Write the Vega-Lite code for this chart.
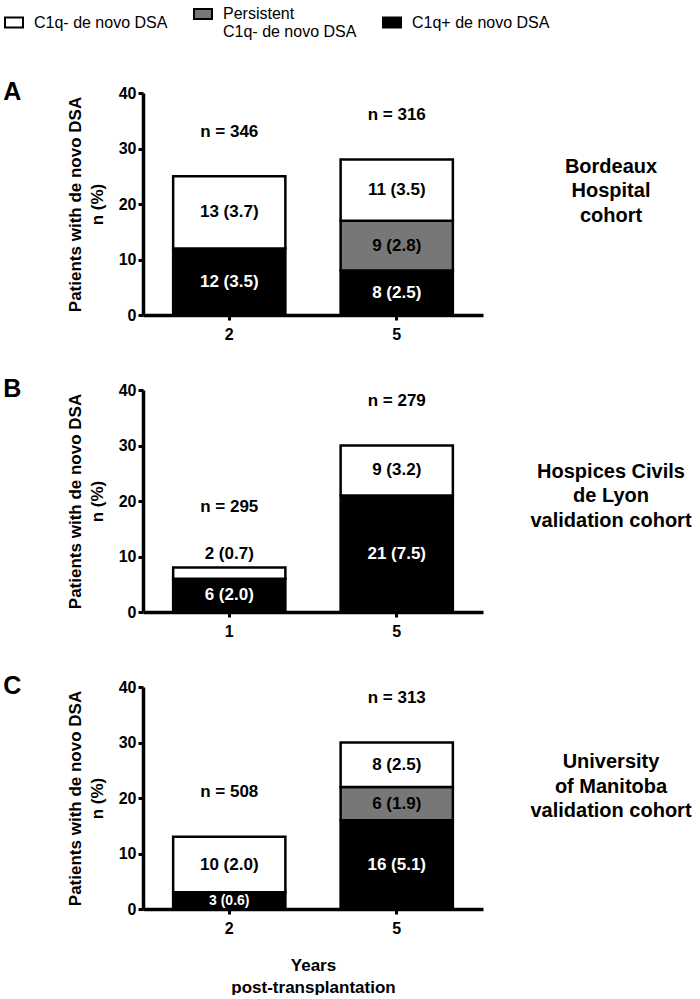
{
  "$schema": "https://vega.github.io/schema/vega-lite/v6.json",
  "background": "white",
  "padding": {"left": 3, "top": 4, "right": 0, "bottom": 0},
  "datasets": {
    "bars": [
      {"cohort": "Bordeaux", "year": 2, "type": "C1q+ de novo DSA", "count": 12, "pct": 3.5, "n": 346},
      {"cohort": "Bordeaux", "year": 2, "type": "C1q- de novo DSA", "count": 13, "pct": 3.7, "n": 346},
      {"cohort": "Bordeaux", "year": 5, "type": "C1q+ de novo DSA", "count": 8, "pct": 2.5, "n": 316},
      {"cohort": "Bordeaux", "year": 5, "type": "Persistent C1q- de novo DSA", "count": 9, "pct": 2.8, "n": 316},
      {"cohort": "Bordeaux", "year": 5, "type": "C1q- de novo DSA", "count": 11, "pct": 3.5, "n": 316},
      {"cohort": "Lyon", "year": 1, "type": "C1q+ de novo DSA", "count": 6, "pct": 2.0, "n": 295},
      {"cohort": "Lyon", "year": 1, "type": "C1q- de novo DSA", "count": 2, "pct": 0.7, "n": 295},
      {"cohort": "Lyon", "year": 5, "type": "C1q+ de novo DSA", "count": 21, "pct": 7.5, "n": 279},
      {"cohort": "Lyon", "year": 5, "type": "C1q- de novo DSA", "count": 9, "pct": 3.2, "n": 279},
      {"cohort": "Manitoba", "year": 2, "type": "C1q+ de novo DSA", "count": 3, "pct": 0.6, "n": 508},
      {"cohort": "Manitoba", "year": 2, "type": "C1q- de novo DSA", "count": 10, "pct": 2.0, "n": 508},
      {"cohort": "Manitoba", "year": 5, "type": "C1q+ de novo DSA", "count": 16, "pct": 5.1, "n": 313},
      {"cohort": "Manitoba", "year": 5, "type": "Persistent C1q- de novo DSA", "count": 6, "pct": 1.9, "n": 313},
      {"cohort": "Manitoba", "year": 5, "type": "C1q- de novo DSA", "count": 8, "pct": 2.5, "n": 313}
    ],
    "cohorts": [
      {"cohort": "Bordeaux", "label": "Bordeaux\nHospital\ncohort"},
      {"cohort": "Lyon", "label": "Hospices Civils\nde Lyon\nvalidation cohort"},
      {"cohort": "Manitoba", "label": "University\nof Manitoba\nvalidation cohort"}
    ]
  },
  "spacing": 35,
  "vconcat": [
    {
      "spacing": 38,
      "hconcat": [
        {
          "title": {"text": "A", "anchor": "start", "frame": "bounds", "fontSize": 25, "fontWeight": "bold", "dx": -63, "offset": -20, "color": "black"},
          "width": 340, "height": 222,
          "data": {"name": "bars"},
          "transform": [
            {"filter": "datum.cohort == 'Bordeaux'"},
            {"calculate": "datum.type == 'C1q+ de novo DSA' ? 0 : (datum.type == 'Persistent C1q- de novo DSA' ? 1 : 2)", "as": "so"},
            {"stack": "count", "groupby": ["year"], "sort": [{"field": "so"}], "as": ["y0", "y1"]},
            {"calculate": "datum.count < 3 ? datum.y1 + 2.5 : (datum.y0 + datum.y1) / 2", "as": "ly"},
            {"calculate": "datum.count + ' (' + format(datum.pct, '.1f') + ')'", "as": "lbl"}
          ],
          "encoding": {
            "x": {"field": "year", "type": "ordinal", "scale": {"paddingInner": 0.33, "paddingOuter": 0.18},
              "axis": {"title": null, "labelAngle": 0, "labelFontSize": 16, "labelFontWeight": "bold", "tickSize": 5, "tickWidth": 3, "domainWidth": 3.5, "labelPadding": 6}}
          },
          "layer": [
            {
              "mark": {"type": "bar", "stroke": "black", "strokeWidth": 2.5},
              "encoding": {
                "y": {"field": "y0", "type": "quantitative", "scale": {"domain": [0, 40], "nice": false},
                  "axis": {"title": ["Patients with de novo DSA", "n (%)"], "values": [0, 10, 20, 30, 40], "titleFontSize": 17, "titleFontWeight": "bold", "titleLineHeight": 22, "titlePadding": 12, "labelFontSize": 16, "labelFontWeight": "bold", "tickSize": 5, "tickWidth": 3, "domainWidth": 3.5, "labelPadding": 2}},
                "y2": {"field": "y1"},
                "color": {"field": "type", "type": "nominal", "scale": {"domain": ["C1q- de novo DSA", "Persistent C1q- de novo DSA", "C1q+ de novo DSA"], "range": ["white", "#777777", "black"]},
                  "legend": {"orient": "none", "legendX": -139, "legendY": -89, "direction": "horizontal", "title": null, "columnPadding": 22,
                    "labelExpr": "datum.label == 'Persistent C1q- de novo DSA' ? ['Persistent', 'C1q- de novo DSA'] : datum.label"}}
              }
            },
            {
              "mark": {"type": "text", "fontWeight": "bold", "baseline": "middle"},
              "encoding": {
                "y": {"field": "ly", "type": "quantitative"},
                "text": {"field": "lbl"},
                "color": {"condition": {"test": "datum.type == 'C1q+ de novo DSA'", "value": "white"}, "value": "black"},
                "size": {"condition": {"test": "datum.count >= 3 && datum.count < 4", "value": 14}, "value": 17}
              }
            },
            {
              "transform": [
                {"aggregate": [{"op": "sum", "field": "count", "as": "total"}, {"op": "min", "field": "count", "as": "mn"}], "groupby": ["year", "n"]},
                {"calculate": "datum.total + (datum.mn < 3 ? 3 : 0) + 8", "as": "ny"},
                {"calculate": "'n = ' + datum.n", "as": "nl"}
              ],
              "mark": {"type": "text", "fontWeight": "bold", "fontSize": 17, "baseline": "middle", "color": "black"},
              "encoding": {
                "y": {"field": "ny", "type": "quantitative"},
                "text": {"field": "nl"}
              }
            }
          ]
        },
        {
          "width": 180, "height": 222,
          "data": {"name": "cohorts"},
          "transform": [{"filter": "datum.cohort == 'Bordeaux'"}],
          "mark": {"type": "text", "fontSize": 20, "fontWeight": "bold", "lineBreak": "\n", "lineHeight": 24.5, "baseline": "middle", "color": "black"},
          "encoding": {
            "y": {"datum": 26.7, "type": "quantitative", "scale": {"domain": [0, 40]}, "axis": null},
            "text": {"field": "label"}
          }
        }
      ]
    },
    {
      "spacing": 38,
      "hconcat": [
        {
          "title": {"text": "B", "anchor": "start", "frame": "bounds", "fontSize": 25, "fontWeight": "bold", "dx": -63, "offset": -20, "color": "black"},
          "width": 340, "height": 222,
          "data": {"name": "bars"},
          "transform": [
            {"filter": "datum.cohort == 'Lyon'"},
            {"calculate": "datum.type == 'C1q+ de novo DSA' ? 0 : (datum.type == 'Persistent C1q- de novo DSA' ? 1 : 2)", "as": "so"},
            {"stack": "count", "groupby": ["year"], "sort": [{"field": "so"}], "as": ["y0", "y1"]},
            {"calculate": "datum.count < 3 ? datum.y1 + 2.5 : (datum.y0 + datum.y1) / 2", "as": "ly"},
            {"calculate": "datum.count + ' (' + format(datum.pct, '.1f') + ')'", "as": "lbl"}
          ],
          "encoding": {
            "x": {"field": "year", "type": "ordinal", "scale": {"paddingInner": 0.33, "paddingOuter": 0.18},
              "axis": {"title": null, "labelAngle": 0, "labelFontSize": 16, "labelFontWeight": "bold", "tickSize": 5, "tickWidth": 3, "domainWidth": 3.5, "labelPadding": 6}}
          },
          "layer": [
            {
              "mark": {"type": "bar", "stroke": "black", "strokeWidth": 2.5},
              "encoding": {
                "y": {"field": "y0", "type": "quantitative", "scale": {"domain": [0, 40], "nice": false},
                  "axis": {"title": ["Patients with de novo DSA", "n (%)"], "values": [0, 10, 20, 30, 40], "titleFontSize": 17, "titleFontWeight": "bold", "titleLineHeight": 22, "titlePadding": 12, "labelFontSize": 16, "labelFontWeight": "bold", "tickSize": 5, "tickWidth": 3, "domainWidth": 3.5, "labelPadding": 2}},
                "y2": {"field": "y1"},
                "color": {"field": "type", "type": "nominal", "scale": {"domain": ["C1q- de novo DSA", "Persistent C1q- de novo DSA", "C1q+ de novo DSA"], "range": ["white", "#777777", "black"]},
                  "legend": {"orient": "none", "legendX": -139, "legendY": -89, "direction": "horizontal", "title": null, "columnPadding": 22,
                    "labelExpr": "datum.label == 'Persistent C1q- de novo DSA' ? ['Persistent', 'C1q- de novo DSA'] : datum.label"}}
              }
            },
            {
              "mark": {"type": "text", "fontWeight": "bold", "baseline": "middle"},
              "encoding": {
                "y": {"field": "ly", "type": "quantitative"},
                "text": {"field": "lbl"},
                "color": {"condition": {"test": "datum.type == 'C1q+ de novo DSA'", "value": "white"}, "value": "black"},
                "size": {"condition": {"test": "datum.count >= 3 && datum.count < 4", "value": 14}, "value": 17}
              }
            },
            {
              "transform": [
                {"aggregate": [{"op": "sum", "field": "count", "as": "total"}, {"op": "min", "field": "count", "as": "mn"}], "groupby": ["year", "n"]},
                {"calculate": "datum.total + (datum.mn < 3 ? 3 : 0) + 8", "as": "ny"},
                {"calculate": "'n = ' + datum.n", "as": "nl"}
              ],
              "mark": {"type": "text", "fontWeight": "bold", "fontSize": 17, "baseline": "middle", "color": "black"},
              "encoding": {
                "y": {"field": "ny", "type": "quantitative"},
                "text": {"field": "nl"}
              }
            }
          ]
        },
        {
          "width": 180, "height": 222,
          "data": {"name": "cohorts"},
          "transform": [{"filter": "datum.cohort == 'Lyon'"}],
          "mark": {"type": "text", "fontSize": 20, "fontWeight": "bold", "lineBreak": "\n", "lineHeight": 24.5, "baseline": "middle", "color": "black"},
          "encoding": {
            "y": {"datum": 25.3, "type": "quantitative", "scale": {"domain": [0, 40]}, "axis": null},
            "text": {"field": "label"}
          }
        }
      ]
    },
    {
      "spacing": 38,
      "hconcat": [
        {
          "title": {"text": "C", "anchor": "start", "frame": "bounds", "fontSize": 25, "fontWeight": "bold", "dx": -63, "offset": -20, "color": "black"},
          "width": 340, "height": 222,
          "data": {"name": "bars"},
          "transform": [
            {"filter": "datum.cohort == 'Manitoba'"},
            {"calculate": "datum.type == 'C1q+ de novo DSA' ? 0 : (datum.type == 'Persistent C1q- de novo DSA' ? 1 : 2)", "as": "so"},
            {"stack": "count", "groupby": ["year"], "sort": [{"field": "so"}], "as": ["y0", "y1"]},
            {"calculate": "datum.count < 3 ? datum.y1 + 2.5 : (datum.y0 + datum.y1) / 2", "as": "ly"},
            {"calculate": "datum.count + ' (' + format(datum.pct, '.1f') + ')'", "as": "lbl"}
          ],
          "encoding": {
            "x": {"field": "year", "type": "ordinal", "scale": {"paddingInner": 0.33, "paddingOuter": 0.18},
              "axis": {"title": ["Years", "post-transplantation"], "titleFontSize": 17, "titleFontWeight": "bold", "titleLineHeight": 22, "titlePadding": 21, "labelAngle": 0, "labelFontSize": 16, "labelFontWeight": "bold", "tickSize": 5, "tickWidth": 3, "domainWidth": 3.5, "labelPadding": 6}}
          },
          "layer": [
            {
              "mark": {"type": "bar", "stroke": "black", "strokeWidth": 2.5},
              "encoding": {
                "y": {"field": "y0", "type": "quantitative", "scale": {"domain": [0, 40], "nice": false},
                  "axis": {"title": ["Patients with de novo DSA", "n (%)"], "values": [0, 10, 20, 30, 40], "titleFontSize": 17, "titleFontWeight": "bold", "titleLineHeight": 22, "titlePadding": 12, "labelFontSize": 16, "labelFontWeight": "bold", "tickSize": 5, "tickWidth": 3, "domainWidth": 3.5, "labelPadding": 2}},
                "y2": {"field": "y1"},
                "color": {"field": "type", "type": "nominal", "scale": {"domain": ["C1q- de novo DSA", "Persistent C1q- de novo DSA", "C1q+ de novo DSA"], "range": ["white", "#777777", "black"]},
                  "legend": {"orient": "none", "legendX": -139, "legendY": -89, "direction": "horizontal", "title": null, "columnPadding": 22,
                    "labelExpr": "datum.label == 'Persistent C1q- de novo DSA' ? ['Persistent', 'C1q- de novo DSA'] : datum.label"}}
              }
            },
            {
              "mark": {"type": "text", "fontWeight": "bold", "baseline": "middle"},
              "encoding": {
                "y": {"field": "ly", "type": "quantitative"},
                "text": {"field": "lbl"},
                "color": {"condition": {"test": "datum.type == 'C1q+ de novo DSA'", "value": "white"}, "value": "black"},
                "size": {"condition": {"test": "datum.count >= 3 && datum.count < 4", "value": 14}, "value": 17}
              }
            },
            {
              "transform": [
                {"aggregate": [{"op": "sum", "field": "count", "as": "total"}, {"op": "min", "field": "count", "as": "mn"}], "groupby": ["year", "n"]},
                {"calculate": "datum.total + (datum.mn < 3 ? 3 : 0) + 8", "as": "ny"},
                {"calculate": "'n = ' + datum.n", "as": "nl"}
              ],
              "mark": {"type": "text", "fontWeight": "bold", "fontSize": 17, "baseline": "middle", "color": "black"},
              "encoding": {
                "y": {"field": "ny", "type": "quantitative"},
                "text": {"field": "nl"}
              }
            }
          ]
        },
        {
          "width": 180, "height": 222,
          "data": {"name": "cohorts"},
          "transform": [{"filter": "datum.cohort == 'Manitoba'"}],
          "mark": {"type": "text", "fontSize": 20, "fontWeight": "bold", "lineBreak": "\n", "lineHeight": 24.5, "baseline": "middle", "color": "black"},
          "encoding": {
            "y": {"datum": 26.4, "type": "quantitative", "scale": {"domain": [0, 40]}, "axis": null},
            "text": {"field": "label"}
          }
        }
      ]
    }
  ],
  "config": {
    "font": "Liberation Sans",
    "view": {"stroke": null},
    "axis": {"domainColor": "black", "tickColor": "black", "labelColor": "black", "titleColor": "black", "grid": false},
    "legend": {
      "labelFontSize": 16, "labelLineHeight": 22, "labelColor": "black", "labelLimit": 300,
      "symbolType": "M-1,-0.55H1V0.55H-1Z", "symbolSize": 324, "symbolStrokeColor": "black", "symbolStrokeWidth": 2, "symbolOpacity": 1,
      "labelOffset": 10
    }
  }
}
